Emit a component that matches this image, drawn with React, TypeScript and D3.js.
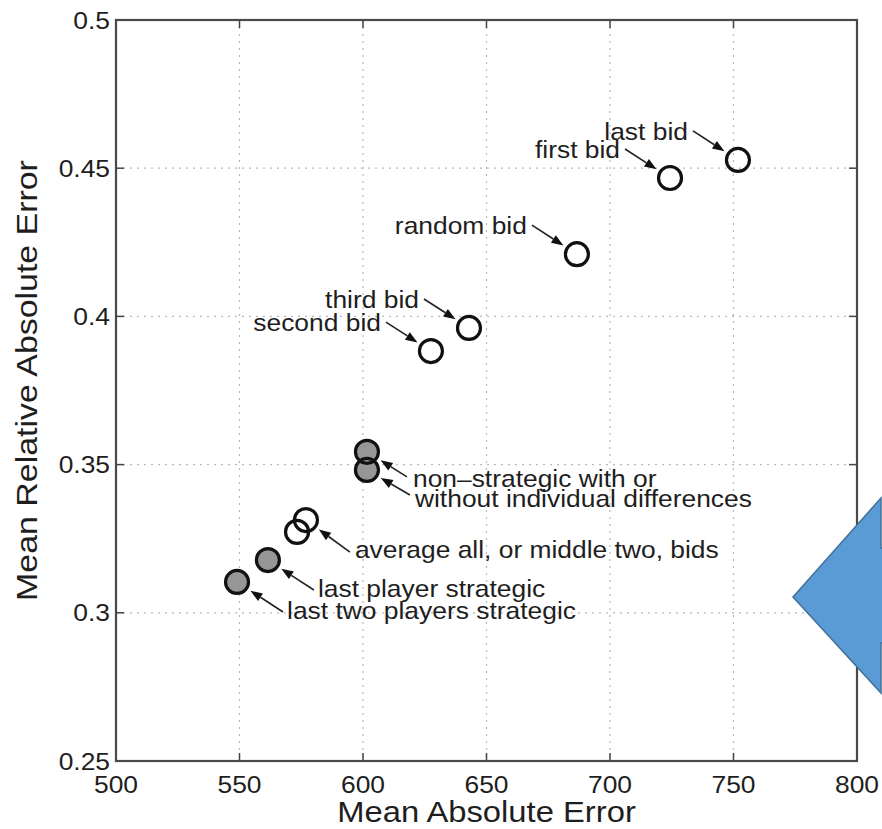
import React, { useEffect, useRef } from 'react';
import * as d3 from 'd3';

// model names, mean absolute error (x) and mean relative absolute error (y)
const modelNames = [
  'last bid',
  'first bid',
  'random bid',
  'third bid',
  'second bid',
  'non-strategic',
  'non-strategic, individual differences',
  'average all bids',
  'middle two bids',
  'last player strategic',
  'last two players strategic',
];
const maeValues = [751.8, 724.3, 686.6, 642.9, 627.5, 601.6, 601.6, 576.9, 573.3, 561.5, 549.0];
const mraeValues = [0.4528, 0.4467, 0.421, 0.3961, 0.3883, 0.3543, 0.3482, 0.3313, 0.3273, 0.3178, 0.3104];
const strategicFlags = [false, false, false, false, false, true, true, false, false, true, true];

const xTicks = [500, 550, 600, 650, 700, 750, 800];
const yTicks = [0.25, 0.3, 0.35, 0.4, 0.45, 0.5];

// annotation text and which model it points at
const annotationTexts = [
  'last bid',
  'first bid',
  'random bid',
  'third bid',
  'second bid',
  'non\u2013strategic with or',
  'without individual differences',
  'average all, or middle two, bids',
  'last player strategic',
  'last two players strategic',
];
const annotationTargets = [0, 1, 2, 3, 4, 5, 6, 7, 9, 10];

const App: React.FC = () => {
  const svgRef = useRef<SVGSVGElement>(null);

  useEffect(() => {
    if (!svgRef.current) return;
    const svg = d3.select(svgRef.current);
    svg.selectAll('*').remove();

    const margin = { top: 20, right: 25, bottom: 68, left: 116 };
    const width = 882;
    const height = 829;
    const font = '"Liberation Sans", Arial, Helvetica, sans-serif';
    const ink = '#1e1e1e';
    const stretch = 1.1; // the original's lettering is a bit wide

    const x = d3.scaleLinear().domain([500, 800]).range([margin.left, width - margin.right]);
    const y = d3.scaleLinear().domain([0.25, 0.5]).range([height - margin.bottom, margin.top]);
    const [x0, x1] = x.range();
    const [y0, y1] = y.range();

    // helper: text placed at (tx,ty), widened horizontally
    const addText = (
      parent: d3.Selection<any, unknown, null, undefined>,
      tx: number,
      ty: number,
      str: string,
      size: number,
      anchor: string,
      k = stretch,
    ) =>
      parent.append('text')
        .attr('transform', `translate(${tx},${ty}) scale(${k},1)`)
        .attr('text-anchor', anchor)
        .attr('font-family', font).attr('font-size', size).attr('fill', ink)
        .text(str);

    svg.append('rect').attr('width', width).attr('height', height).attr('fill', '#fff');

    // grid (dotted, matlab style)
    const grid = svg.append('g').attr('stroke', '#b8b8b8').attr('stroke-width', 1.2).attr('stroke-dasharray', '2,5');
    grid.selectAll('line.vx')
      .data(xTicks.slice(1, -1))
      .join('line')
      .attr('x1', d => x(d)).attr('x2', d => x(d))
      .attr('y1', y1).attr('y2', y0);
    grid.selectAll('line.hy')
      .data(yTicks.slice(1, -1))
      .join('line')
      .attr('x1', x0).attr('x2', x1)
      .attr('y1', d => y(d)).attr('y2', d => y(d));

    // inward ticks on all four sides
    const tickLen = 8;
    const ticks = svg.append('g').attr('stroke', '#444').attr('stroke-width', 1.5);
    xTicks.forEach(t => {
      ticks.append('line').attr('x1', x(t)).attr('x2', x(t)).attr('y1', y0).attr('y2', y0 - tickLen);
      ticks.append('line').attr('x1', x(t)).attr('x2', x(t)).attr('y1', y1).attr('y2', y1 + tickLen);
    });
    yTicks.forEach(t => {
      ticks.append('line').attr('x1', x0).attr('x2', x0 + tickLen).attr('y1', y(t)).attr('y2', y(t));
      ticks.append('line').attr('x1', x1).attr('x2', x1 - tickLen).attr('y1', y(t)).attr('y2', y(t));
    });

    // box
    svg.append('rect')
      .attr('x', x0).attr('y', y1)
      .attr('width', x1 - x0).attr('height', y0 - y1)
      .attr('fill', 'none').attr('stroke', '#4a4a4a').attr('stroke-width', 2.2);

    // tick labels
    const tickLabels = svg.append('g');
    xTicks.forEach(t => addText(tickLabels, x(t), y0 + 32, String(t), 24, 'middle'));
    yTicks.forEach(t => {
      const lbl = t === 0.5 ? '0.5' : d3.format('.2f')(t).replace(/0$/, '');
      addText(tickLabels, x0 - 6, y(t) + 8.5, lbl, 24, 'end');
    });

    // axis titles
    addText(svg, (x0 + x1) / 2, height - 7, 'Mean Absolute Error', 29, 'middle', 1.13);
    svg.append('text')
      .attr('transform', `translate(37,${(y0 + y1) / 2 - 10}) rotate(-90) scale(1.13,1)`)
      .attr('text-anchor', 'middle')
      .attr('font-family', font).attr('font-size', 30).attr('fill', ink)
      .text('Mean Relative Absolute Error');

    const points = modelNames.map((name, i) => ({
      name,
      cx: x(maeValues[i]),
      cy: y(mraeValues[i]),
      filled: strategicFlags[i],
    }));

    // markers: fills first, then outlines so overlaps show both rings
    const r = 11.5;
    svg.append('g').selectAll('circle')
      .data(points)
      .join('circle')
      .attr('cx', d => d.cx).attr('cy', d => d.cy).attr('r', r)
      .attr('fill', d => (d.filled ? '#969696' : 'none'));
    svg.append('g').selectAll('circle')
      .data(points)
      .join('circle')
      .attr('cx', d => d.cx).attr('cy', d => d.cy).attr('r', r)
      .attr('fill', 'none').attr('stroke', '#111').attr('stroke-width', 3.2);

    // annotations: upper labels sit up-left, lower labels down-right
    const annotations = annotationTexts.map((text, i) => {
      const p = points[annotationTargets[i]];
      const upper = i < 5;
      let tail: [number, number];
      let label: [number, number];
      if (upper) {
        tail = [-45, -29];
        label = [-50, -20];
      } else if (i === 5) {
        tail = [40, 25];
        label = [46, 35];
      } else if (i === 6) {
        tail = [43, 25];
        label = [48, 37];
      } else if (i === 7) {
        tail = [44, 32];
        label = [49, 38];
      } else {
        tail = [46, 30];
        label = [50, 37];
      }
      return { text, p, upper, tail, label };
    });

    const tipDist = 16;
    const headLen = 12;
    const headHalf = 4.5;
    const ann = svg.append('g');
    annotations.forEach(a => {
      const tx = a.p.cx + a.tail[0];
      const ty = a.p.cy + a.tail[1];
      const len = Math.hypot(a.tail[0], a.tail[1]);
      const ux = a.tail[0] / len;
      const uy = a.tail[1] / len;
      const hx = a.p.cx + ux * tipDist;
      const hy = a.p.cy + uy * tipDist;
      const bx = hx + ux * headLen;
      const by = hy + uy * headLen;
      ann.append('line')
        .attr('x1', tx).attr('y1', ty).attr('x2', bx).attr('y2', by)
        .attr('stroke', '#222').attr('stroke-width', 1.6);
      ann.append('path')
        .attr('d', d3.line()([
          [hx, hy],
          [bx - uy * headHalf, by + ux * headHalf],
          [bx + uy * headHalf, by - ux * headHalf],
        ]) + 'Z')
        .attr('fill', '#111');
      addText(ann, a.p.cx + a.label[0], a.p.cy + a.label[1], a.text, 24, a.upper ? 'end' : 'start');
    });

    // blue arrow shape overlapping the right edge of the picture
    svg.append('path')
      .attr('d', 'M793,597 L881,498 L881,548 L900,548 L900,643 L881,643 L881,693 Z')
      .attr('fill', '#5b9bd5')
      .attr('stroke', '#41719c')
      .attr('stroke-width', 1.5);
  }, []);

  return (
    <div style={{ position: 'absolute', left: 0, top: 0 }}>
      <svg ref={svgRef} width={882} height={829} style={{ display: 'block' }}></svg>
    </div>
  );
};

export default App;
